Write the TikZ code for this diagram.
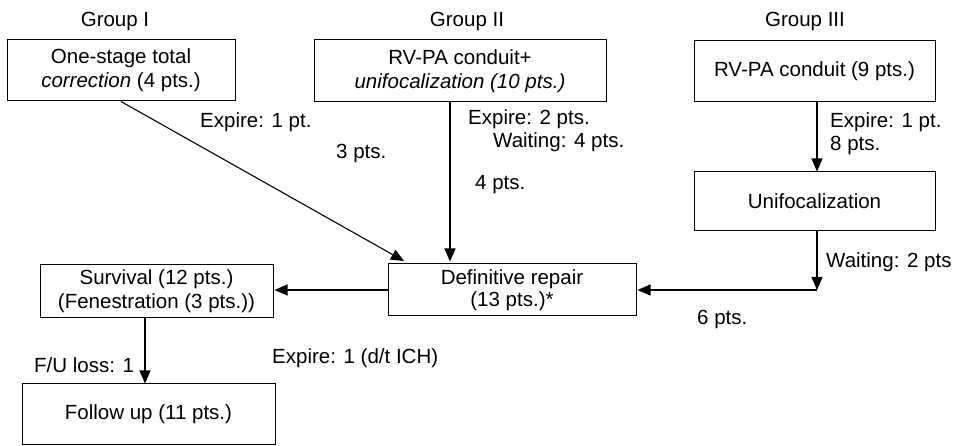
\documentclass[tikz,border=0pt]{standalone}
\usepackage{fontspec}
\setmainfont{Liberation Sans}
\usetikzlibrary{arrows.meta}
\begin{document}
\begin{tikzpicture}[x=1pt,y=-1pt,
  box/.style={draw, line width=1pt, align=center, inner sep=0pt, font=\fontsize{20.5}{24}\selectfont},
  lbl/.style={font=\fontsize{20.5}{24}\selectfont, inner sep=0pt, anchor=base west},
  grp/.style={font=\fontsize{20.5}{24}\selectfont, inner sep=0pt, anchor=base},
  arr/.style={line width=1.1pt, -{Triangle[length=13pt,width=11pt]}}]
\useasboundingbox (0,0) rectangle (954,446);
% group titles
\node[grp] (g1) at (115,27) {Group I};
\node[grp] (g2) at (467,27) {Group II};
\node[grp] (g3) at (805,27) {Group III};
% boxes
\node[box, minimum width=228pt, minimum height=61pt] (b1) at (121,70.5) {One-stage total\\\textit{correction} (4 pts.)};
\node[box, minimum width=292pt, minimum height=62pt] (b2) at (460,71) {RV-PA conduit+\\\textit{unifocalization (10 pts.)}};
\node[box, minimum width=241pt, minimum height=61pt] (b3) at (814.5,71.5) {RV-PA conduit (9 pts.)};
\node[box, minimum width=241pt, minimum height=59pt] (unif) at (814.5,201.5) {Unifocalization};
\node[box, minimum width=248pt, minimum height=52pt, font=\fontsize{20.5}{22}\selectfont] (def) at (512,290) {Definitive repair\\(13 pts.)*};
\node[box, minimum width=233pt, minimum height=53pt] (surv) at (156.5,291.5) {Survival (12 pts.)\\(Fenestration (3 pts.))};
\node[box, minimum width=253pt, minimum height=61pt] (fu) at (148.5,414.5) {Follow up (11 pts.)};
% helper coordinates
\coordinate (dtip) at (404,261);
\coordinate (v2) at (450,0);
\coordinate (v3) at (817,0);
\coordinate (corner) at (817,290);
\coordinate (v5) at (145,0);
% connectors
\draw[arr] (b1.south) -- (dtip);
\draw[arr, shorten >=2pt] (b2.south -| v2) -- (def.north -| v2);
\draw[arr] (b3.south -| v3) -- (unif.north -| v3);
\draw[arr] (unif.south -| v3) -- (corner);
\draw[arr, shorten >=1pt] (corner) -- (def.east |- corner);
\draw[arr, shorten >=1pt] (def.west) -- (surv.east |- def.west);
\draw[arr] (surv.south -| v5) -- (fu.north -| v5);
% labels
\node[lbl] (l1) at (200,128) {Expire: 1 pt.};
\node[lbl] (l2) at (336,159) {3 pts.};
\node[lbl] (l3) at (468,125) {Expire: 2 pts.};
\node[lbl] (l4) at (493,148) {Waiting: 4 pts.};
\node[lbl] (l5) at (475,190) {4 pts.};
\node[lbl] (l6) at (830,128) {Expire: 1 pt.};
\node[lbl] (l7) at (830,151) {8 pts.};
\node[lbl] (l8) at (826,268) {Waiting: 2 pts};
\node[lbl] (l9) at (697,325) {6 pts.};
\node[lbl] (l10) at (272,364) {Expire: 1 (d/t ICH)};
\node[lbl] (l11) at (34,373) {F/U loss: 1};
\end{tikzpicture}
\end{document}
